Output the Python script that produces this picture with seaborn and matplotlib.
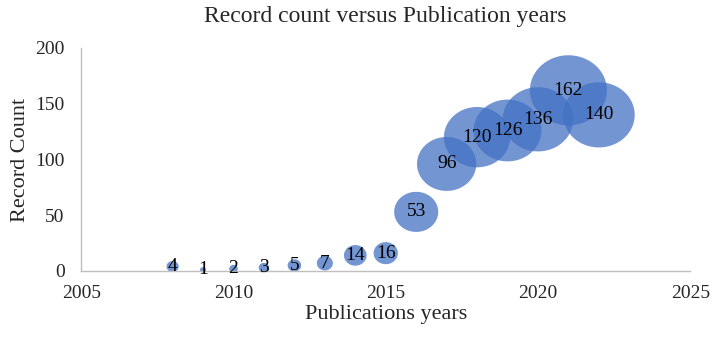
import numpy as np
import pandas as pd
import matplotlib
matplotlib.use("Agg")
import matplotlib.pyplot as plt
from matplotlib.path import Path
import seaborn as sns

years = [2008, 2009, 2010, 2011, 2012, 2013, 2014, 2015,
         2016, 2017, 2018, 2019, 2020, 2021, 2022]
counts = [4, 1, 2, 3, 5, 7, 14, 16, 53, 96, 120, 126, 136, 162, 140]

df = pd.DataFrame({"year": years, "count": counts})

sns.set_style("white")
plt.rcParams["font.family"] = ["Liberation Serif", "DejaVu Serif"]

# bubbles in the original are a bit wider than tall
t = np.linspace(0, 2 * np.pi, 80)
ellipse = Path(np.column_stack([np.cos(t), 0.91 * np.sin(t)]), closed=True)

fig = plt.figure(figsize=(7.19, 3.40), dpi=100)
ax = fig.add_axes([0.113, 0.203, 0.847, 0.656])

sns.scatterplot(data=df, x="year", y="count", size="count",
                sizes=(19 * 1, 19 * 162), size_norm=(1, 162),
                marker=ellipse, color="#4472C4", alpha=0.75, edgecolor="none",
                linewidth=0, legend=False, ax=ax, clip_on=False)

# value labels in the bubble centres
for x, y in zip(years, counts):
    ax.text(x, y, str(y), ha="center", va="center", fontsize=14, color="black")

ax.set_xlim(2005, 2025)
ax.set_ylim(0, 200)
ax.set_xticks([2005, 2010, 2015, 2020, 2025])
ax.set_yticks([0, 50, 100, 150, 200])
ax.tick_params(labelsize=14, length=0)
ax.tick_params(axis="x", pad=10)
ax.tick_params(axis="y", pad=12)

for s in ["top", "right"]:
    ax.spines[s].set_visible(False)
for s in ["left", "bottom"]:
    ax.spines[s].set_color("#bfbfbf")
    ax.spines[s].set_linewidth(1)

ax.set_xlabel("Publications years", fontsize=16, labelpad=2)
ax.set_ylabel("Record Count", fontsize=16, labelpad=4)
ax.set_title("Record count versus Publication years", fontsize=17, pad=19)

fig.savefig("out.png", dpi=100)
